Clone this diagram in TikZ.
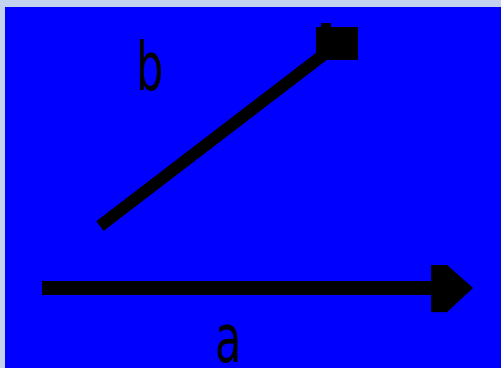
\documentclass[tikz,border=0pt]{standalone}
\usepackage{fontspec}
\setmainfont{DejaVu Sans}
\definecolor{edgebg}{HTML}{C2D2EE}
\definecolor{panel}{HTML}{0000FF}
\tikzset{
  lbl/.style={inner sep=0pt, font=\fontsize{67}{67}\selectfont, xscale=0.64, text=black},
  thickline/.style={line width=12pt, black},
  shaft/.style={line width=14pt, black}
}
\begin{document}
\begin{tikzpicture}[x=1pt,y=-1pt]
\useasboundingbox (0,0) rectangle (501,368);
\fill[edgebg] (0,0) rectangle (501,368);
\fill[panel] (5,7) rectangle (501,368);
% line b with square end
\coordinate (b0) at (100,226);
\coordinate (b1) at (335,46);
\draw[thickline] (b0) -- (b1);
\fill[black] (316,27) rectangle (358,60);
\fill[black] (321,23) rectangle (331,27);
% arrow a
\coordinate (a0) at (42,288);
\coordinate (a1) at (432,288);
\draw[shaft] (a0) -- (a1);
\fill[black] (431,265) -- (447,265) -- (473,288) -- (447,312) -- (431,312) -- cycle;
% labels
\node[lbl, anchor=base] (lb) at (150,90) {b};
\node[lbl, anchor=base] (la) at (229,362) {a};
\end{tikzpicture}
\end{document}
